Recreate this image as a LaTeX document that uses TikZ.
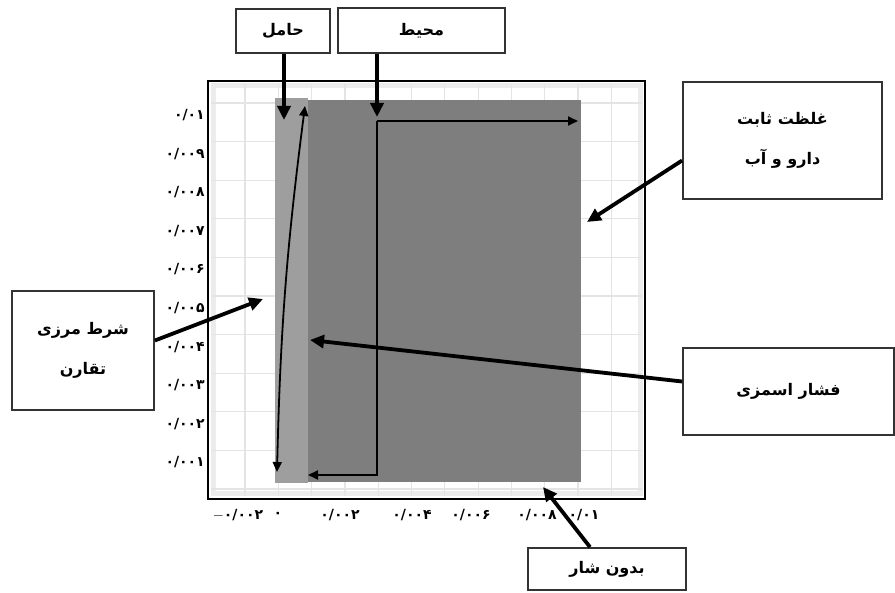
\documentclass[tikz,border=0pt]{standalone}
\usepackage{fontspec}
\usepackage{tikz}
\usetikzlibrary{arrows.meta}
\TeXXeTstate=1
\newfontfamily\arabicfont[Script=Arabic]{DejaVu Sans}
\definecolor{stripgray}{RGB}{158,158,158}
\definecolor{domaingray}{RGB}{126,126,126}
\definecolor{gridgray}{RGB}{228,228,228}
\tikzstyle{thickarr}=[-{Triangle[length=14pt,width=13pt]},line width=3.8pt]
\tikzstyle{thinarr}=[-{Triangle[length=10pt,width=9pt]},line width=1.8pt]
\tikzstyle{lblbox}=[draw=black!80,line width=1.8pt,fill=white,align=center,
  inner sep=0pt,font=\arabicfont\bfseries\fontsize{16}{19}\selectfont]
\tikzstyle{ticklbl}=[inner sep=0pt,font=\arabicfont\bfseries\fontsize{14}{16}\selectfont]
\tikzstyle{gridline}=[gridgray,line width=1.2pt]
\newcommand{\rtl}[1]{\beginR #1\endR}

\begin{document}
\begin{tikzpicture}[x=1pt,y=-1pt]
  \useasboundingbox (0,0) rectangle (895,593);

  % plot area
  \fill[white] (208,81) rectangle (645,499);
  \draw[gray!15,line width=5pt] (213,86) rectangle (640,494);
  \foreach \gx in {245,278.3,...,640}
    \draw[gridline] (\gx,84) -- (\gx,496);
  \foreach \gy in {103,141.6,...,490}
    \draw[gridline] (211,\gy) -- (642,\gy);
  \draw[line width=2.4pt] (208,81) rectangle (645,499);
  \fill[stripgray] (275,98) rectangle (308,483);
  \fill[domaingray] (308,100) rectangle (581,482);

  % axis labels
  \foreach \y/\lbl [count=\i] in {115/{۰/۰۱},153.6/{۰/۰۰۹},192.2/{۰/۰۰۸},
      230.8/{۰/۰۰۷},269.4/{۰/۰۰۶},308/{۰/۰۰۵},346.6/{۰/۰۰۴},
      385.2/{۰/۰۰۳},423.8/{۰/۰۰۲},462.4/{۰/۰۰۱}}
    \node[ticklbl,anchor=east] (ytick\i) at (205,\y) {\lbl};
  \foreach \x/\lbl [count=\i] in {238/{$-$۰/۰۰۲},278/{۰},340/{۰/۰۰۲},
      412/{۰/۰۰۴},471/{۰/۰۰۶},537/{۰/۰۰۸},584/{۰/۰۱}}
    \node[ticklbl] (xtick\i) at (\x,515) {\lbl};

  % label boxes
  \node[lblbox,minimum width=94pt,minimum height=44pt] (holderBox) at (283,31) {\rtl{حامل}};
  \node[lblbox,minimum width=167pt,minimum height=45pt] (envBox) at (421.5,30.5) {\rtl{محیط}};
  \node[lblbox,minimum width=199pt,minimum height=117pt] (concBox) at (782.5,140.5)
    {\rtl{غلظت ثابت}\\[21pt]\rtl{دارو و آب}};
  \node[lblbox,minimum width=142pt,minimum height=119pt] (symBox) at (83,350.5)
    {\rtl{شرط مرزی}\\[21pt]\rtl{تقارن}};
  \node[lblbox,minimum width=211pt,minimum height=87pt] (osmBox) at (788.5,391.5) {\rtl{فشار اسمزی}};
  \node[lblbox,minimum width=158pt,minimum height=42pt] (fluxBox) at (607,569) {\rtl{بدون شار}};

  % arrow ends
  \coordinate (holderTip) at (284,120);
  \coordinate (envTip) at (377,117);
  \coordinate (envCorner) at (377,121);
  \coordinate (envRight) at (578,121);
  \coordinate (envLow) at (377,475);
  \coordinate (envLeft) at (308,475);
  \coordinate (stripTop) at (305,106);
  \coordinate (stripBot) at (277,472);
  \coordinate (concTip) at (587,222);
  \coordinate (symTip) at (263,299);
  \coordinate (osmTip) at (310,340);
  \coordinate (fluxTip) at (543,487);

  \draw[thinarr] (envCorner) -- (envRight);
  \draw[thinarr] (envCorner) -- (envLow) -- (envLeft);
  \draw[line width=1.8pt,{Triangle[length=10pt,width=9pt]}-{Triangle[length=10pt,width=9pt]}]
    (stripBot) to[bend left=3] (stripTop);

  \draw[thickarr] (holderBox.south -| holderTip) -- (holderTip);
  \draw[thickarr] (envBox.south -| envTip) -- (envTip);
  \draw[thickarr] ([yshift=-20pt]concBox.west) -- (concTip);
  \draw[thickarr] ([yshift=10pt]symBox.east) -- (symTip);
  \draw[thickarr] ([yshift=10pt]osmBox.west) -- (osmTip);
  \draw[thickarr] ([xshift=-17pt]fluxBox.north) -- (fluxTip);
\end{tikzpicture}
\end{document}
